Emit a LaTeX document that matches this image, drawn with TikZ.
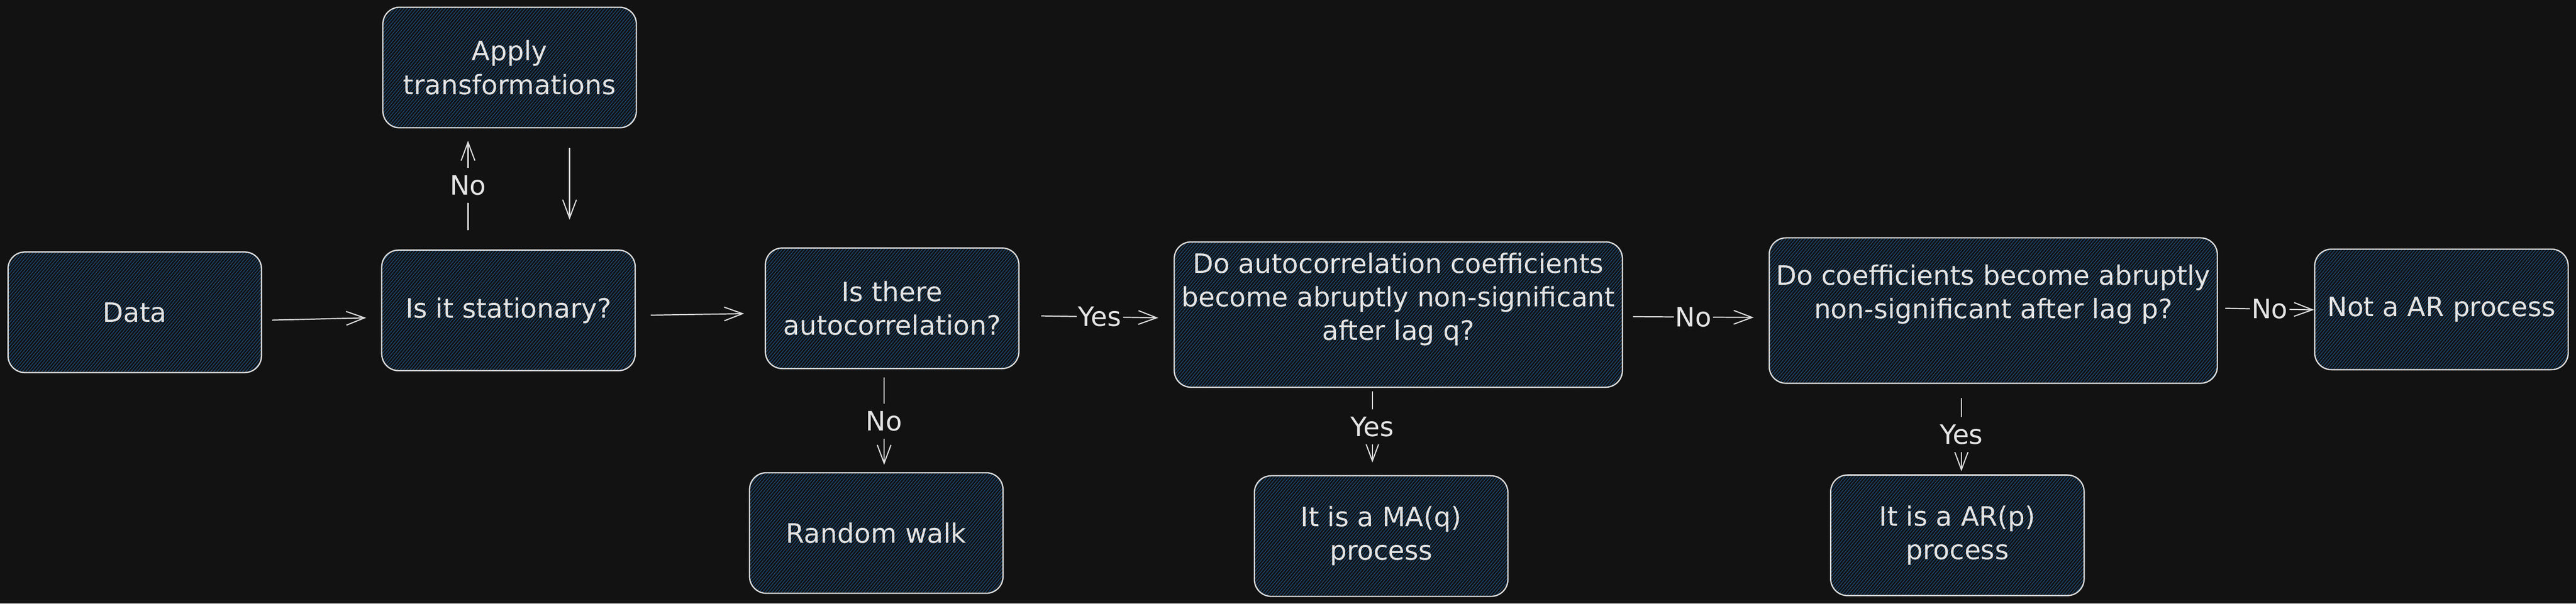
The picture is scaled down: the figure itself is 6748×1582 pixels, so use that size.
\documentclass[tikz,border=0pt]{standalone}
\usepackage{fontspec}
\setmainfont{DejaVu Sans}
\usetikzlibrary{arrows.meta,patterns.meta,calc}
\definecolor{bg}{HTML}{121212}
\definecolor{strokec}{HTML}{DCDCDC}
\definecolor{txtc}{HTML}{E4E4E4}
\definecolor{hatch}{HTML}{1C4B75}
\newcommand\figfont{\fontsize{17.5}{22}\selectfont}
\begin{document}
\begin{tikzpicture}[x=0.25pt,y=-0.25pt,
  box/.style={draw=strokec, line width=0.85pt, rounded corners=11pt,
    pattern={Lines[angle=50,distance=1.6pt,line width=0.45pt]}, pattern color=hatch,
    text=txtc, font=\figfont, align=center, inner sep=0pt,
    minimum width=166pt, minimum height=79pt},
  bigbox/.style={box, minimum width=293.5pt, minimum height=95.25pt},
  txt/.style={text=txtc, font=\figfont, align=center, inner sep=0pt},
  arr/.style={draw=strokec, line width=0.75pt, -{Straight Barb[length=12pt,width=9pt]}},
  lblh/.style={fill=bg, text=txtc, font=\figfont, inner xsep=1pt, inner ysep=1pt},
  lblv/.style={fill=bg, text=txtc, font=\figfont, inner sep=0pt, minimum height=23pt, minimum width=30pt}]
\fill[bg] (0,0) rectangle (6748,1582);
\useasboundingbox (0,0) rectangle (6748,1582);

% boxes
\node[box] (data) at (353,818.5) {Data};
\node[box] (stat) at (1332,813.5) {Is it stationary?};
\node[box] (apply) at (1335,177) {Apply\\transformations};
\node[box] (auto) at (2337,808) {Is there\\autocorrelation?};
\node[box] (rw) at (2295.5,1397) {Random walk};
\node[bigbox] (q1) at (3663,824.5) {};
\node[txt] (q1t) at ([yshift=10pt]q1.center) {Do autocorrelation coefficients\\become abruptly non-significant\\after lag q?};
\node[box] (ma) at (3618,1405) {It is a MA(q)\\process};
\node[bigbox] (q2) at (5221.5,814) {};
\node[txt] (q2t) at ([yshift=10.5pt]q2.center) {Do coefficients become abruptly\\non-significant after lag p?};
\node[box] (ar) at (5127.5,1403) {It is a AR(p)\\process};
\node[box] (notar) at (6395.5,811) {Not a AR process};

% connectors
\draw[arr] ([shift={(27,20.5)}]data.east) -- ([shift={(-39,19.5)}]stat.west);
\draw[arr] ([shift={(39,12.5)}]stat.east) -- ([shift={(-54,14)}]auto.west);
\draw[arr] ([shift={(-106,-50)}]stat.north) -- node[lblv] {No} ([shift={(-109,32)}]apply.south);
\draw[arr] ([shift={(157,51)}]apply.south) -- ([shift={(160,-78)}]stat.north);
\draw[arr] ([shift={(57,20)}]auto.east) -- node[lblh] {Yes} ([shift={(-40,8.5)}]q1.west);
\draw[arr] ([shift={(-21,21)}]auto.south) -- node[lblv] {No} ([shift={(20.5,-19)}]rw.north);
\draw[arr] ([shift={(26,5.5)}]q1.east) -- node[lblh] {No} ([shift={(-39,18)}]q2.west);
\draw[arr] ([shift={(-68,9)}]q1.south) -- node[lblv] {Yes} ([shift={(-23,-33)}]ma.north);
\draw[arr] ([shift={(-83.5,37)}]q2.south) -- node[lblv] {Yes} ([shift={(10.5,-8)}]ar.north);
\draw[arr] ([shift={(19,-6)}]q2.east) -- node[lblh] {No} ([shift={(0,1)}]notar.west);
\end{tikzpicture}
\end{document}
